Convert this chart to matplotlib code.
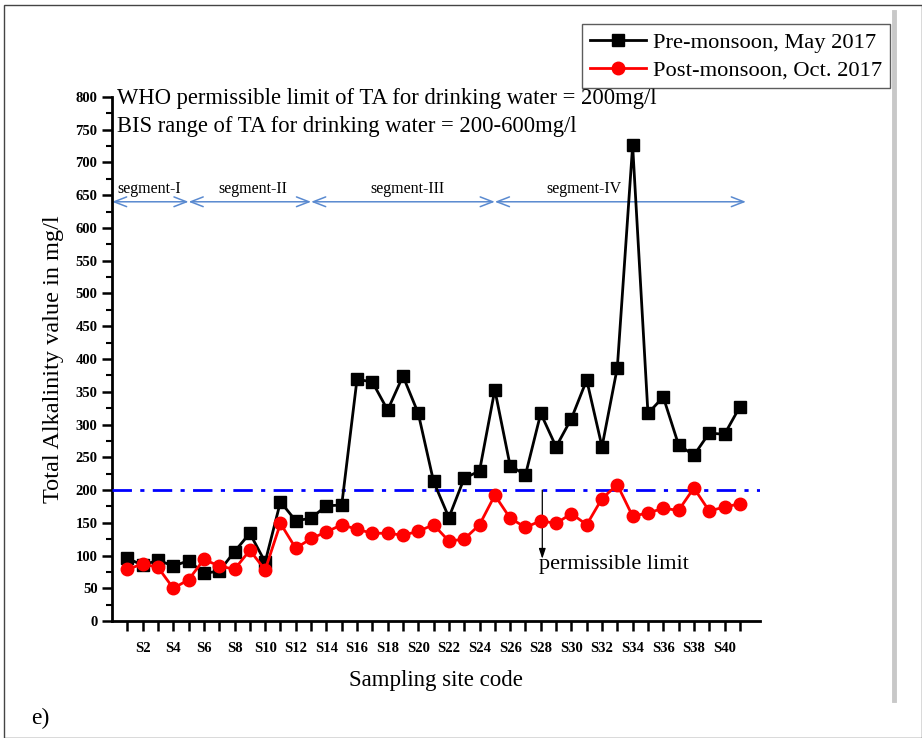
import matplotlib
matplotlib.use("Agg")
import matplotlib.pyplot as plt
from matplotlib.patches import Rectangle
from matplotlib.lines import Line2D
import numpy as np

plt.rcParams['font.family'] = ['Liberation Serif', 'DejaVu Serif']

sites = list(range(1, 42))
site_labels = [f"S{i}" if i % 2 == 0 else "" for i in sites]

pre_monsoon = [96, 85, 93, 84, 92, 73, 76, 106, 134, 90,
               182, 153, 157, 176, 177, 369, 365, 322, 374, 317,
               213, 158, 218, 229, 353, 237, 223, 317, 266, 309,
               368, 266, 387, 726, 317, 342, 269, 253, 287, 285, 327]
post_monsoon = [79, 87, 82, 50, 63, 94, 84, 79, 108, 78,
                149, 111, 126, 136, 147, 140, 134, 134, 131, 137,
                147, 122, 125, 147, 192, 157, 143, 153, 149, 164,
                147, 187, 208, 160, 165, 172, 169, 203, 168, 174, 179]

who_limit = 200
segment_bounds = [0, 5, 13, 25, 41.4]
segment_names = ["segment-I", "segment-II", "segment-III", "segment-IV"]
segment_y = 640

fig = plt.figure(figsize=(9.22, 7.38), dpi=100)
ax = fig.add_axes([0.1215, 0.1585, 0.7025, 0.7101])

ax.plot(sites, pre_monsoon, color='black', lw=2.0, marker='s', ms=9,
        label='Pre-monsoon, May 2017', zorder=4)
ax.plot(sites, post_monsoon, color='red', lw=2.0, marker='o', ms=9,
        label='Post-monsoon, Oct. 2017', zorder=4)

ax.axhline(who_limit, color='blue', lw=2.0, linestyle=(0, (7, 3, 1.5, 3)), zorder=3)

ax.set_xlim(0, 42.3)
ax.set_ylim(0, 800)
ax.set_xticks(sites)
ax.set_xticklabels(site_labels, fontsize=10.5, fontweight='bold')
ax.set_yticks(np.arange(0, 801, 50))
ax.set_yticks(np.arange(0, 801, 25), minor=True)
ax.tick_params(axis='y', labelsize=10.5, width=1.8, length=7, direction='out')
ax.tick_params(axis='y', which='minor', width=1.5, length=4)
ax.tick_params(axis='x', width=1.8, length=7, direction='out', pad=8)
for lbl in ax.get_yticklabels():
    lbl.set_fontweight('bold')
ax.spines['top'].set_visible(False)
ax.spines['right'].set_visible(False)
ax.spines['left'].set_linewidth(2.0)
ax.spines['bottom'].set_linewidth(2.0)

ax.set_xlabel('Sampling site code', fontsize=16.5, labelpad=11)
ax.set_ylabel('Total Alkalinity value in mg/l', fontsize=17.5, labelpad=8)

# segment arrows
seg_color = '#5a8ad0'
for i in range(len(segment_names)):
    x0, x1 = segment_bounds[i], segment_bounds[i + 1]
    ax.annotate('', xy=(x1, segment_y), xytext=(x0, segment_y),
                arrowprops=dict(arrowstyle='<->,head_length=0.9,head_width=0.35',
                                color=seg_color, lw=1.1, shrinkA=0, shrinkB=0),
                annotation_clip=False, zorder=2)
seg_label_x = [2.45, 9.2, 19.3, 30.8]
for name, xl in zip(segment_names, seg_label_x):
    ax.text(xl, segment_y + 8, name, fontsize=11.5, ha='center', va='bottom')

ax.text(0.3, 797, 'WHO permissible limit of TA for drinking water = 200mg/l',
        fontsize=16.3, ha='left', va='center')
ax.text(0.3, 755, 'BIS range of TA for drinking water = 200-600mg/l',
        fontsize=16.3, ha='left', va='center')

ax.annotate('', xy=(28.1, 95), xytext=(28.1, who_limit),
            arrowprops=dict(arrowstyle='-|>,head_length=0.6,head_width=0.2',
                            color='black', lw=0.9, shrinkA=0, shrinkB=0))
ax.text(27.9, 86, 'permissible limit', fontsize=16, ha='left', va='center')

leg = fig.legend(loc='upper right', bbox_to_anchor=(0.965, 0.967), fontsize=16.2,
                 frameon=True, fancybox=False, edgecolor='#333333',
                 borderpad=0.35, handlelength=2.5, handletextpad=0.3,
                 labelspacing=0.3, borderaxespad=0)
leg.get_frame().set_linewidth(1.0)

# figure border and decorations
fig.patches.append(Rectangle((4 / 922, 0), 1 - 4 / 922, 1 - 5 / 738,
                             transform=fig.transFigure, fill=False,
                             edgecolor='#444444', lw=1.0))
fig.lines.append(Line2D([894 / 922, 894 / 922], [1 - 12 / 738, 1 - 700 / 738],
                        transform=fig.transFigure, color='#c8c8c8', lw=3.5))
fig.text(40 / 922, 1 - 718 / 738, 'e)', fontsize=17, ha='center', va='center')

fig.savefig('out.png', dpi=100)
